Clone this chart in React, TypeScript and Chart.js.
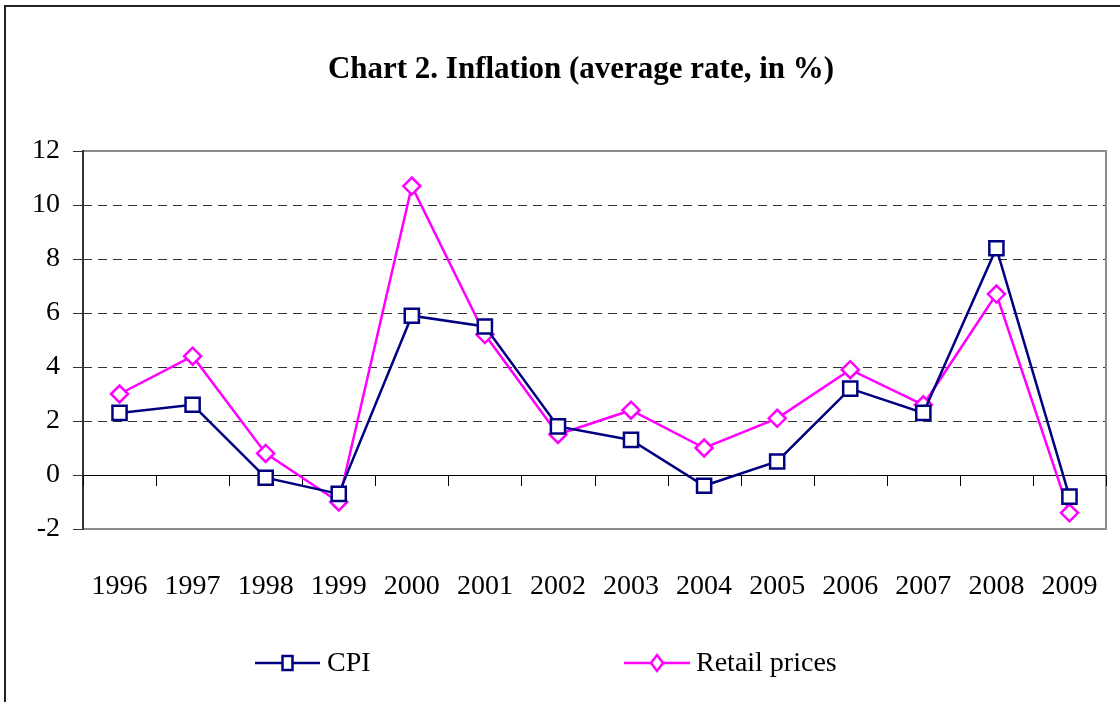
import React, { useEffect, useRef } from "react";
import { Chart, registerables } from "chart.js";

Chart.register(...registerables);

const years = ["1996", "1997", "1998", "1999", "2000", "2001", "2002", "2003", "2004", "2005", "2006", "2007", "2008", "2009"];
const cpi = [2.3, 2.6, -0.1, -0.7, 5.9, 5.5, 1.8, 1.3, -0.4, 0.5, 3.2, 2.3, 8.4, -0.8];
const retail = [3.0, 4.4, 0.8, -1.0, 10.7, 5.2, 1.5, 2.4, 1.0, 2.1, 3.9, 2.6, 6.7, -1.4];
const yMin = -2;
const yMax = 12;
const yStep = 2;
const seriesNames = ["CPI", "Retail prices"];
const titleText = "Chart 2. Inflation (average rate, in %)";

const NAVY = "#000080";
const MAGENTA = "#FF00FF";
const FONT = "'Liberation Serif', 'DejaVu Serif', serif";

const framePlugin = {
  id: "frame",
  beforeDraw(chart: any) {
    const { ctx } = chart;
    ctx.save();
    ctx.fillStyle = "#ffffff";
    ctx.fillRect(0, 0, chart.width, chart.height);
    ctx.fillStyle = "#222222";
    ctx.fillRect(4, 5, chart.width - 4, 2);
    ctx.fillRect(4, 5, 2, chart.height - 5);
    // title
    ctx.fillStyle = "#000000";
    ctx.font = `bold 31px ${FONT}`;
    ctx.textAlign = "center";
    ctx.textBaseline = "middle";
    ctx.fillText(titleText, 581, 70);
    ctx.restore();
  },
};

const plotBoxPlugin = {
  id: "plotBox",
  beforeDatasetsDraw(chart: any) {
    const { ctx, chartArea, scales } = chart;
    const { left, right, top, bottom } = chartArea;
    ctx.save();
    ctx.strokeStyle = "#8c8c8c";
    ctx.lineWidth = 2;
    ctx.beginPath();
    ctx.moveTo(left, top);
    ctx.lineTo(right, top);
    ctx.lineTo(right, bottom);
    ctx.lineTo(left, bottom);
    ctx.stroke();
    ctx.strokeStyle = "#333333";
    ctx.lineWidth = 2;
    ctx.beginPath();
    ctx.moveTo(left, top - 1);
    ctx.lineTo(left, bottom + 1);
    ctx.stroke();
    const y0 = Math.round(scales.y.getPixelForValue(0));
    ctx.strokeStyle = "#000000";
    ctx.lineWidth = 1;
    ctx.beginPath();
    ctx.moveTo(left, y0 + 0.5);
    ctx.lineTo(right, y0 + 0.5);
    for (let i = 0; i <= years.length; i++) {
      const x = Math.round(scales.x.getPixelForValue(i - 0.5)) + 0.5;
      ctx.moveTo(x, y0 + 0.5);
      ctx.lineTo(x, y0 + 11);
    }
    ctx.stroke();
    ctx.restore();
  },
};

const legendPlugin = {
  id: "customLegend",
  afterDraw(chart: any) {
    const { ctx } = chart;
    const ly = 663;
    const items = [
      { name: seriesNames[0], color: NAVY, style: "square", x0: 255, x1: 320, tx: 327 },
      { name: seriesNames[1], color: MAGENTA, style: "diamond", x0: 624, x1: 690, tx: 696 },
    ];
    ctx.save();
    for (const it of items) {
      ctx.strokeStyle = it.color;
      ctx.lineWidth = 2.5;
      ctx.beginPath();
      ctx.moveTo(it.x0, ly);
      ctx.lineTo(it.x1, ly);
      ctx.stroke();
      const cx = (it.x0 + it.x1) / 2;
      ctx.fillStyle = "#ffffff";
      ctx.beginPath();
      if (it.style === "square") {
        ctx.rect(cx - 5, ly - 7, 10, 14);
      } else {
        ctx.moveTo(cx, ly - 8);
        ctx.lineTo(cx + 6, ly);
        ctx.lineTo(cx, ly + 8);
        ctx.lineTo(cx - 6, ly);
        ctx.closePath();
      }
      ctx.fill();
      ctx.stroke();
      ctx.fillStyle = "#000000";
      ctx.font = `28px ${FONT}`;
      ctx.textAlign = "left";
      ctx.textBaseline = "middle";
      ctx.fillText(it.name, it.tx, ly + 1);
    }
    ctx.restore();
  },
};

export default function App() {
  const ref = useRef<HTMLCanvasElement | null>(null);
  useEffect(() => {
    if (!ref.current) return;
    const chart = new Chart(ref.current, {
      type: "line",
      data: {
        labels: years,
        datasets: [
          {
            label: seriesNames[0],
            data: cpi,
            borderColor: NAVY,
            backgroundColor: "#ffffff",
            borderWidth: 2.5,
            pointStyle: "rect",
            pointRadius: 10,
            pointBorderWidth: 2.5,
            pointBorderColor: NAVY,
            pointBackgroundColor: "#ffffff",
            tension: 0,
          },
          {
            label: seriesNames[1],
            data: retail,
            borderColor: MAGENTA,
            backgroundColor: "#ffffff",
            borderWidth: 2.5,
            pointStyle: "rectRot",
            pointRadius: 8.5,
            pointBorderWidth: 2.5,
            pointBorderColor: MAGENTA,
            pointBackgroundColor: "#ffffff",
            tension: 0,
          },
        ],
      },
      options: {
        animation: false,
        responsive: false,
        maintainAspectRatio: false,
        layout: { padding: { top: 151, right: 14, bottom: 83, left: 0 } },
        plugins: {
          legend: { display: false },
          tooltip: { enabled: false },
          title: { display: false },
        },
        scales: {
          x: {
            type: "category",
            offset: true,
            grid: { display: false, drawTicks: false },
            border: { display: false },
            ticks: {
              color: "#000000",
              font: { family: FONT, size: 28 },
              padding: 41,
              maxRotation: 0,
              autoSkip: false,
            },
            afterFit(scale: any) {
              scale.height = 90;
              scale.paddingLeft = 0;
              scale.paddingRight = 0;
            },
          },
          y: {
            min: yMin,
            max: yMax,
            grid: {
              color: (c: any) => {
                const v = c.tick ? c.tick.value : null;
                if (v === yMin || v === yMax || v === 0) return "rgba(0,0,0,0)";
                return "#333333";
              },
              lineWidth: 1,
              tickLength: 10,
              tickColor: "#333333",
            },
            border: {
              display: false,
              dash: (c: any) => (c && c.tick && c.tick.value !== 0 ? [9, 6] : []),
            },
            ticks: {
              stepSize: yStep,
              color: "#000000",
              font: { family: FONT, size: 28 },
              padding: 13,
            },
            afterFit(scale: any) {
              scale.width = 83;
              scale.paddingTop = 0;
              scale.paddingBottom = 0;
            },
          },
        },
      },
      plugins: [framePlugin, plotBoxPlugin, legendPlugin],
    });
    return () => chart.destroy();
  }, []);
  return (
    <div style={{ position: "absolute", left: 0, top: 0, width: 1120, height: 702 }}>
      <canvas ref={ref} width={1120} height={702} style={{ display: "block" }} />
    </div>
  );
}
